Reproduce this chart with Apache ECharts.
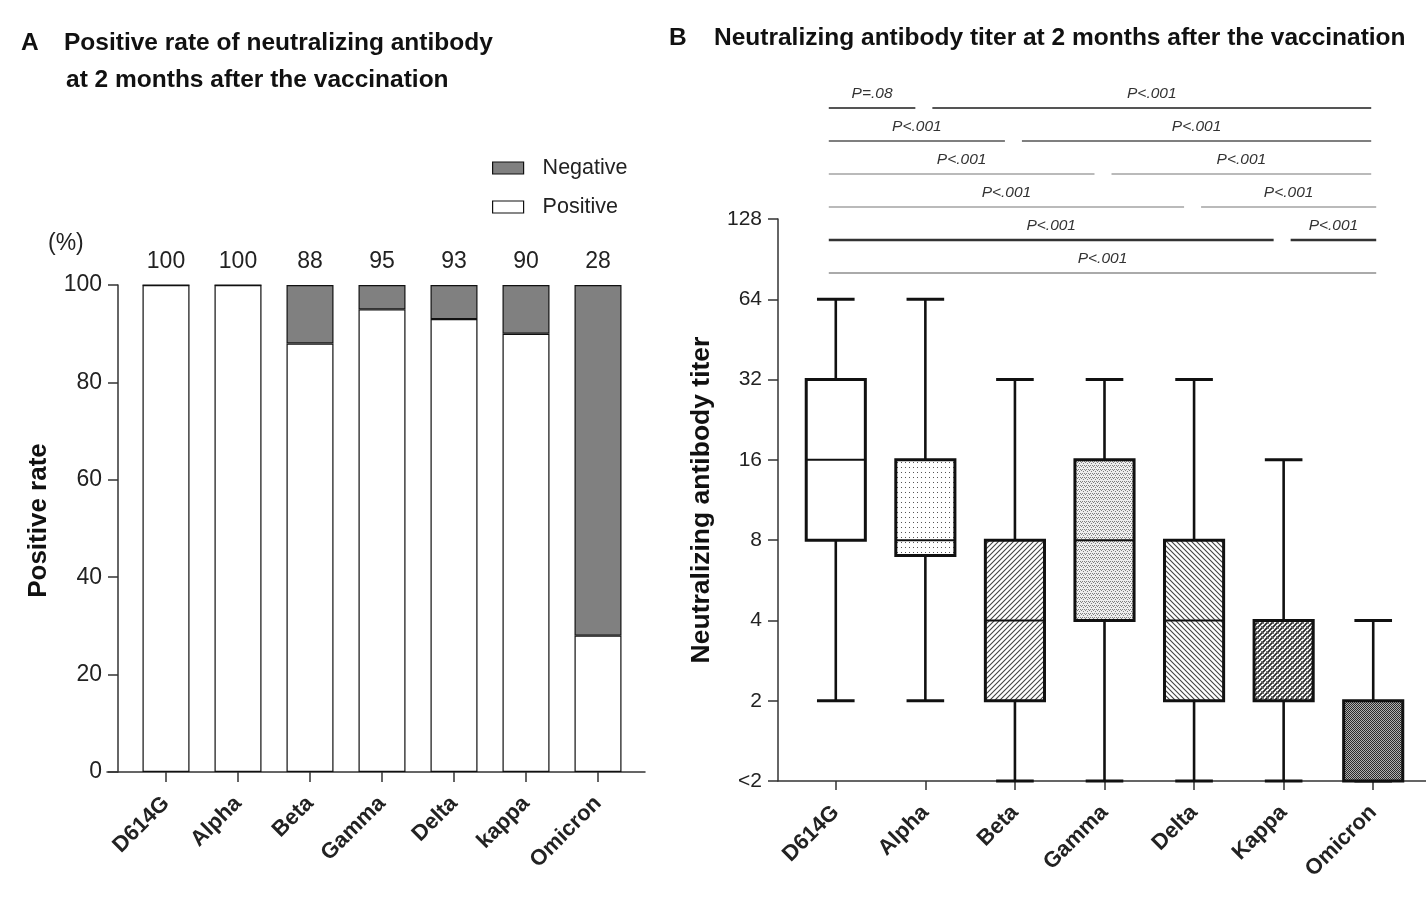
<!DOCTYPE html>
<html><head><meta charset="utf-8">
<script src="https://cdn.jsdelivr.net/npm/echarts@6/dist/echarts.min.js"></script>
<style>html,body{margin:0;padding:0;background:#fff}#c{width:1426px;height:922px}</style>
</head><body><div id="c"></div>
<script>
// ---------- Panel A data ----------
var variantsA = ['D614G','Alpha','Beta','Gamma','Delta','kappa','Omicron'];
var positiveRate = [100,100,88,95,93,90,28];
var negativeRate = [0,0,12,5,7,10,72];
var rateTicks = [0,20,40,60,80,100];

// ---------- Panel B data ----------
var variantsB = ['D614G','Alpha','Beta','Gamma','Delta','Kappa','Omicron'];
// "<2" is stored as 1 on the log2 axis
var titerMin    = [2, 2, 1, 1, 1, 1, 1];
var titerQ1     = [8, 7, 2, 4, 2, 2, 1];
var titerMedian = [16, 8, 4, 8, 4, 4, 1];
var titerQ3     = [32, 16, 8, 16, 8, 4, 2];
var titerMax    = [64, 64, 32, 32, 32, 16, 4];
var titerTicks  = ['<2','2','4','8','16','32','64','128'];

// significance comparisons: D614G vs target (left), target vs Omicron (right)
var sigTarget = [1, 2, 3, 4, 5, 6];
var sigLeftP  = ['P=.08','P<.001','P<.001','P<.001','P<.001','P<.001'];
var sigRightP = ['P<.001','P<.001','P<.001','P<.001','P<.001',''];

// ---------- patterns ----------
function tile(w,h,draw){var c=document.createElement('canvas');c.width=w;c.height=h;var x=c.getContext('2d');x.fillStyle='#fff';x.fillRect(0,0,w,h);draw(x,w,h);return {image:c,repeat:'repeat'};}
function diag(x,s,dir,col,lw){x.strokeStyle=col;x.lineWidth=lw;x.beginPath();
  if(dir>0){x.moveTo(0,s);x.lineTo(s,0);x.moveTo(-1,1);x.lineTo(1,-1);x.moveTo(s-1,s+1);x.lineTo(s+1,s-1);}
  else{x.moveTo(0,0);x.lineTo(s,s);x.moveTo(-1,s-1);x.lineTo(1,s+1);x.moveTo(s-1,-1);x.lineTo(s+1,1);}
  x.stroke();}
var patterns = [
  '#ffffff',
  tile(4,5,function(x){x.fillStyle='#555';x.fillRect(1,2,1,1);}),
  tile(5,5,function(x,w){diag(x,w,1,'#444',1.1);}),
  tile(4,4,function(x){x.fillStyle='#eeeeee';x.fillRect(0,0,4,4);x.fillStyle='#808080';x.fillRect(0,1,1,1);x.fillRect(2,1,1,1);x.fillRect(1,2,1,1);x.fillRect(3,3,1,1);}),
  tile(5,5,function(x,w){diag(x,w,-1,'#444',1.1);}),
  tile(5,5,function(x,w){diag(x,w,1,'#222',1.6);diag(x,w,-1,'#666',0.9);}),
  tile(2,2,function(x){x.fillStyle='#2a2a2a';x.fillRect(0,0,1,1);x.fillRect(1,1,1,1);x.fillStyle='#b0b0b0';x.fillRect(1,0,1,1);x.fillRect(0,1,1,1);})
];

var FONT = 'Liberation Sans, Arial, sans-serif';
var TXT = '#222';
var boxData = variantsB.map(function(v,i){return [i,titerMin[i],titerQ1[i],titerMedian[i],titerQ3[i],titerMax[i]];});
var sigData = sigTarget.map(function(t,i){return [t,i+1,i];});

var chart = echarts.init(document.getElementById('c'), null, {renderer:'canvas'});
var titleStyle = {fontFamily:FONT,fontWeight:'bold',fontSize:24.5,color:'#111'};
var option = {
  backgroundColor:'#fff',
  animation:false,
  title:[
    {text:'A',left:16,top:26,textStyle:titleStyle},
    {text:'Positive rate of neutralizing antibody',left:59,top:26,textStyle:titleStyle},
    {text:'at 2 months after the vaccination',left:61,top:63,textStyle:titleStyle},
    {text:'B',left:664,top:21,textStyle:titleStyle},
    {text:'Neutralizing antibody titer at 2 months after the vaccination',left:709,top:21,textStyle:titleStyle},
    {text:'(%)',left:43,top:227,textStyle:{fontFamily:FONT,fontWeight:'normal',fontSize:23,color:TXT}}
  ],
  legend:{
    left:492, top:157, padding:0, orient:'vertical', icon:'rect', itemWidth:31, itemHeight:12, itemGap:17,
    data:['Negative','Positive'],
    textStyle:{fontFamily:FONT,fontSize:21.5,color:TXT,padding:[0,0,0,14]},
    itemStyle:{borderColor:'#111',borderWidth:1.2}
  },
  grid:[
    {left:130, top:285, width:504, height:487},
    {left:107, top:285, width:538, height:487},
    {left:791, top:219, width:627, height:562},
    {left:778, top:219, width:648, height:562},
    {left:791, top:75, width:627, height:198}
  ],
  xAxis:[
    {gridIndex:0,type:'category',data:variantsA,position:'bottom',
      axisLine:{show:false},
      axisTick:{show:true,alignWithLabel:true,length:10,lineStyle:{color:'#333',width:1.5}},
      axisLabel:{rotate:45,margin:28,fontFamily:FONT,fontWeight:'bold',fontSize:22,color:TXT}},
    {gridIndex:0,type:'category',data:variantsA,position:'top',
      axisLine:{show:false},axisTick:{show:false},
      axisLabel:{margin:12,fontFamily:FONT,fontSize:23,color:TXT,formatter:function(v,i){return String(positiveRate[i]);}}},
    {gridIndex:1,type:'value',min:0,max:1,axisLine:{show:true,lineStyle:{color:'#333',width:1.5}},axisTick:{show:false},axisLabel:{show:false},splitLine:{show:false}},
    {gridIndex:2,type:'category',data:variantsB,position:'bottom',
      axisLine:{show:false},
      axisTick:{show:true,alignWithLabel:true,length:9,lineStyle:{color:'#333',width:1.5}},
      axisLabel:{rotate:45,margin:28,fontFamily:FONT,fontWeight:'bold',fontSize:22,color:TXT}},
    {gridIndex:3,type:'value',min:0,max:1,axisLine:{show:true,lineStyle:{color:'#333',width:1.5}},axisTick:{show:false},axisLabel:{show:false},splitLine:{show:false}},
    {gridIndex:4,type:'category',data:variantsB,show:false}
  ],
  yAxis:[
    {gridIndex:0,type:'value',min:0,max:100,interval:20,offset:12,
      axisLine:{show:true,lineStyle:{color:'#333',width:1.5}},
      axisTick:{show:true,length:10,lineStyle:{color:'#333',width:1.5}},
      axisLabel:{margin:16,fontFamily:FONT,fontSize:23,color:TXT,formatter:function(v){return rateTicks.indexOf(v)>=0?String(v):'';}},
      splitLine:{show:false},
      name:'Positive rate',nameLocation:'middle',nameRotate:90,nameGap:66,
      nameTextStyle:{fontFamily:FONT,fontWeight:'bold',fontSize:26,color:'#111',padding:[0,0,0,16]}},
    {gridIndex:1,type:'value',show:false,min:0,max:1},
    {gridIndex:2,type:'log',logBase:2,min:1,max:128,splitNumber:7,offset:13,
      axisLine:{show:true,lineStyle:{color:'#333',width:1.5}},
      axisTick:{show:true,length:10,lineStyle:{color:'#333',width:1.5}},
      axisLabel:{margin:16,fontFamily:FONT,fontSize:21,color:TXT,formatter:function(v){var k=Math.round(Math.log(v)/Math.LN2);return titerTicks[k]!==undefined?titerTicks[k]:'';}},
      splitLine:{show:false},minorTick:{show:false},
      name:'Neutralizing antibody titer',nameLocation:'middle',nameRotate:90,nameGap:63,
      nameTextStyle:{fontFamily:FONT,fontWeight:'bold',fontSize:26.5,color:'#111'}},
    {gridIndex:3,type:'value',show:false,min:0,max:1},
    {gridIndex:4,type:'value',show:false,min:0,max:6,inverse:true}
  ],
  series:[
    {name:'Positive',type:'bar',stack:'r',xAxisIndex:0,yAxisIndex:0,barWidth:47,data:positiveRate,
      itemStyle:{color:'#ffffff',borderColor:'#111',borderWidth:1.2}},
    {name:'Negative',type:'bar',stack:'r',xAxisIndex:0,yAxisIndex:0,barWidth:47,data:negativeRate,
      itemStyle:{color:'#808080',borderColor:'#111',borderWidth:1.2}},
    {type:'custom',xAxisIndex:3,yAxisIndex:2,data:boxData,clip:false,
      encode:{x:0,y:[1,2,3,4,5]},
      renderItem:function(params,api){
        var i=api.value(0);
        var pMin=api.coord([i,api.value(1)]),pQ1=api.coord([i,api.value(2)]),pMed=api.coord([i,api.value(3)]),
            pQ3=api.coord([i,api.value(4)]),pMax=api.coord([i,api.value(5)]);
        var band=api.size([1,1])[0];
        var bw=band*0.66, cw=band*0.42, cx=pMed[0];
        var ch=[];
        var ls={stroke:'#111',lineWidth:2.6};
        ch.push({type:'line',shape:{x1:cx,y1:pMax[1],x2:cx,y2:pQ3[1]},style:ls});
        ch.push({type:'line',shape:{x1:cx,y1:pQ1[1],x2:cx,y2:pMin[1]},style:ls});
        ch.push({type:'line',shape:{x1:cx-cw/2,y1:pMax[1],x2:cx+cw/2,y2:pMax[1]},style:{stroke:'#111',lineWidth:3}});
        ch.push({type:'line',shape:{x1:cx-cw/2,y1:pMin[1],x2:cx+cw/2,y2:pMin[1]},style:{stroke:'#111',lineWidth:3}});
        ch.push({type:'rect',shape:{x:cx-bw/2,y:pQ3[1],width:bw,height:pQ1[1]-pQ3[1]},style:{fill:patterns[i],stroke:'#111',lineWidth:3}});
        ch.push({type:'line',shape:{x1:cx-bw/2,y1:pMed[1],x2:cx+bw/2,y2:pMed[1]},style:{stroke:'#111',lineWidth:2}});
        return {type:'group',children:ch};
      }},
    {type:'custom',xAxisIndex:5,yAxisIndex:4,data:sigData,clip:false,
      encode:{x:0,y:1},
      renderItem:function(params,api){
        var t=api.value(0), lvl=api.value(1), k=api.value(2);
        var p0=api.coord([0,lvl]), pt=api.coord([t,lvl]), pe=api.coord([6,lvl]);
        var widths=[2,1.6,1.2,1.2,2.6,2], cols=['#555','#555','#777','#777','#333','#aaa'];
        var st={stroke:cols[k],lineWidth:widths[k]};
        var y=p0[1], ch=[];
        var tf={fontFamily:FONT,fontStyle:'italic',fontSize:15.5,fill:'#333',textAlign:'center',textVerticalAlign:'bottom'};
        var lx1=p0[0]-7, lx2=(t===6)?pe[0]+3:pt[0]-10;
        ch.push({type:'line',shape:{x1:lx1,y1:y,x2:lx2,y2:y},style:st});
        ch.push({type:'text',style:Object.assign({text:sigLeftP[k],x:(lx1+lx2)/2,y:y-6},tf)});
        if(t<6){
          var rx1=pt[0]+7, rx2=pe[0]+(t>=4?3:-2);
          ch.push({type:'line',shape:{x1:rx1,y1:y,x2:rx2,y2:y},style:st});
          ch.push({type:'text',style:Object.assign({text:sigRightP[k],x:(rx1+rx2)/2,y:y-6},tf)});
        }
        return {type:'group',children:ch};
      }}
  ]
};
chart.setOption(option);
</script>
</body></html>
